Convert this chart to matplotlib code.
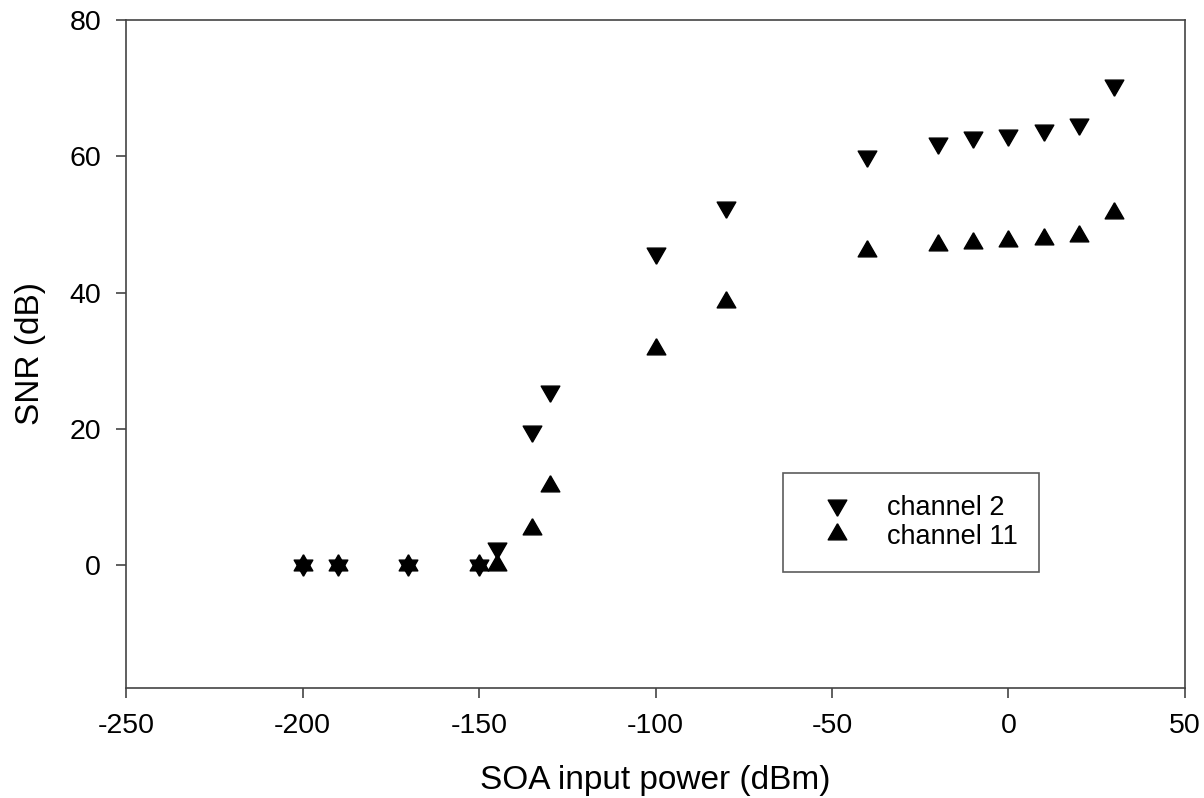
import matplotlib.pyplot as plt

plt.rcParams['font.family'] = ['Liberation Sans', 'DejaVu Sans']
plt.rcParams['axes.unicode_minus'] = False

# SOA input power (dBm)
power = [-200, -190, -170, -150, -145, -135, -130, -100, -80, -40, -20, -10, 0, 10, 20, 30]
# SNR (dB)
snr_ch2 = [0, 0, 0, 0, 2.5, 19.7, 25.5, 45.8, 52.6, 60.1, 62.0, 62.8, 63.1, 63.8, 64.75, 70.5]
snr_ch11 = [0, 0, 0, 0, 0, 5.4, 11.6, 31.8, 38.6, 46.1, 47.0, 47.3, 47.6, 47.8, 48.3, 51.7]

# triangles centred on their centroid (so the two overlap into a star)
tri_up = [(0, 1), (-0.866, -0.5), (0.866, -0.5), (0, 1)]
tri_down = [(0, -1), (-0.866, 0.5), (0.866, 0.5), (0, -1)]

fig = plt.figure(figsize=(12.04, 7.98), dpi=100)
ax = fig.add_axes([0.1047, 0.1378, 0.8795, 0.8372])

ax.plot(power, snr_ch2, linestyle='none', marker=tri_down, markersize=15.5,
        color='black', label='channel 2')
ax.plot(power, snr_ch11, linestyle='none', marker=tri_up, markersize=15.5,
        color='black', label='channel 11')

ax.set_xlim(-250, 50)
ax.set_ylim(-18, 80)
ax.set_xticks([-250, -200, -150, -100, -50, 0, 50])
ax.set_yticks([0, 20, 40, 60, 80])

for s in ax.spines.values():
    s.set_color('#444444')
    s.set_linewidth(1.2)
ax.tick_params(direction='out', length=7, width=1.2, color='#444444',
               labelsize=20.5, pad=11)

ax.set_xlabel('SOA input power (dBm)', fontsize=24, labelpad=19)
ax.set_ylabel('SNR (dB)', fontsize=24, labelpad=17)

leg = ax.legend(loc='upper left', bbox_to_anchor=(0.62, 0.322), fontsize=19.5,
                frameon=True, fancybox=False, borderpad=0.8, handletextpad=0.64,
                handlelength=2.4, labelspacing=0.125, borderaxespad=0)
leg.get_frame().set_edgecolor('#333333')
leg.get_frame().set_linewidth(1.2)

plt.savefig('out.png', dpi=100)
